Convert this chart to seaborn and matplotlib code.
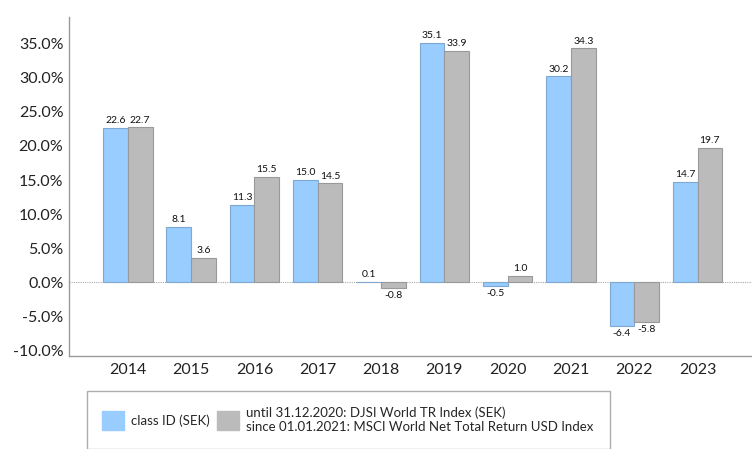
import matplotlib
matplotlib.use("Agg")
import matplotlib.pyplot as plt
import seaborn as sns
import pandas as pd
from matplotlib.patches import Patch
from matplotlib.ticker import FuncFormatter

years = ["2014", "2015", "2016", "2017", "2018", "2019", "2020", "2021", "2022", "2023"]
class_id = [22.6, 8.1, 11.3, 15.0, 0.1, 35.1, -0.5, 30.2, -6.4, 14.7]
index_vals = [22.7, 3.6, 15.5, 14.5, -0.8, 33.9, 1.0, 34.3, -5.8, 19.7]
series_names = ["class ID (SEK)",
                "until 31.12.2020: DJSI World TR Index (SEK)\nsince 01.01.2021: MSCI World Net Total Return USD Index"]
y_ticks = [-10, -5, 0, 5, 10, 15, 20, 25, 30, 35]

df = pd.DataFrame({
    "year": years * 2,
    "value": class_id + index_vals,
    "series": [series_names[0]] * len(years) + [series_names[1]] * len(years),
})

sns.set_theme(style="white")
plt.rcParams['font.family'] = ['Lato', 'DejaVu Sans']

colors = ["#99CCFF", "#BBBBBB"]
edges = ["#7FA8D0", "#999999"]

fig = plt.figure(figsize=(7.52, 4.49), dpi=100)
ax = fig.add_axes([69/752, 1-356/449, 1-69/752, (356-17)/449])

sns.barplot(data=df, x="year", y="value", hue="series", palette=colors,
            width=0.78, ax=ax, legend=False, saturation=1)

for cont, ec in zip(ax.containers, edges):
    for b in cont:
        b.set_edgecolor(ec)
        b.set_linewidth(0.8)
    ax.bar_label(cont, fmt="%.1f", fontsize=7.5, padding=2, color="#111111")

ax.axhline(0, color="#AAAAAA", lw=0.8, ls=(0, (1, 1)), zorder=0)
ax.set_xlim(-0.93, 9.86)
ax.set_ylim(-10.8, 38.9)
ax.set_yticks(y_ticks)
ax.yaxis.set_major_formatter(FuncFormatter(lambda v, p: f"{v:.1f}%"))
ax.set_xlabel("")
ax.set_ylabel("")
ax.tick_params(axis="both", labelsize=11.5, colors="#222222", length=0)
ax.tick_params(axis="x", pad=5)
ax.tick_params(axis="y", pad=4)
for s in ["top", "right"]:
    ax.spines[s].set_visible(False)
for s in ["left", "bottom"]:
    ax.spines[s].set_color("#999999")
    ax.spines[s].set_linewidth(1)

handles = [Patch(facecolor=colors[0], edgecolor=colors[0]),
           Patch(facecolor=colors[1], edgecolor=colors[1])]
leg = fig.legend(handles, series_names, ncol=2, loc="upper left",
                 bbox_to_anchor=(80/752, 1-384/449),
                 frameon=True, fancybox=False, fontsize=9.5,
                 handlelength=1.6, handleheight=1.8, handletextpad=0.6,
                 columnspacing=0.55, borderpad=1.2, labelspacing=0.2)
leg.get_frame().set_edgecolor("#999999")
leg.get_frame().set_linewidth(1)

fig.savefig("out.png", dpi=100)
